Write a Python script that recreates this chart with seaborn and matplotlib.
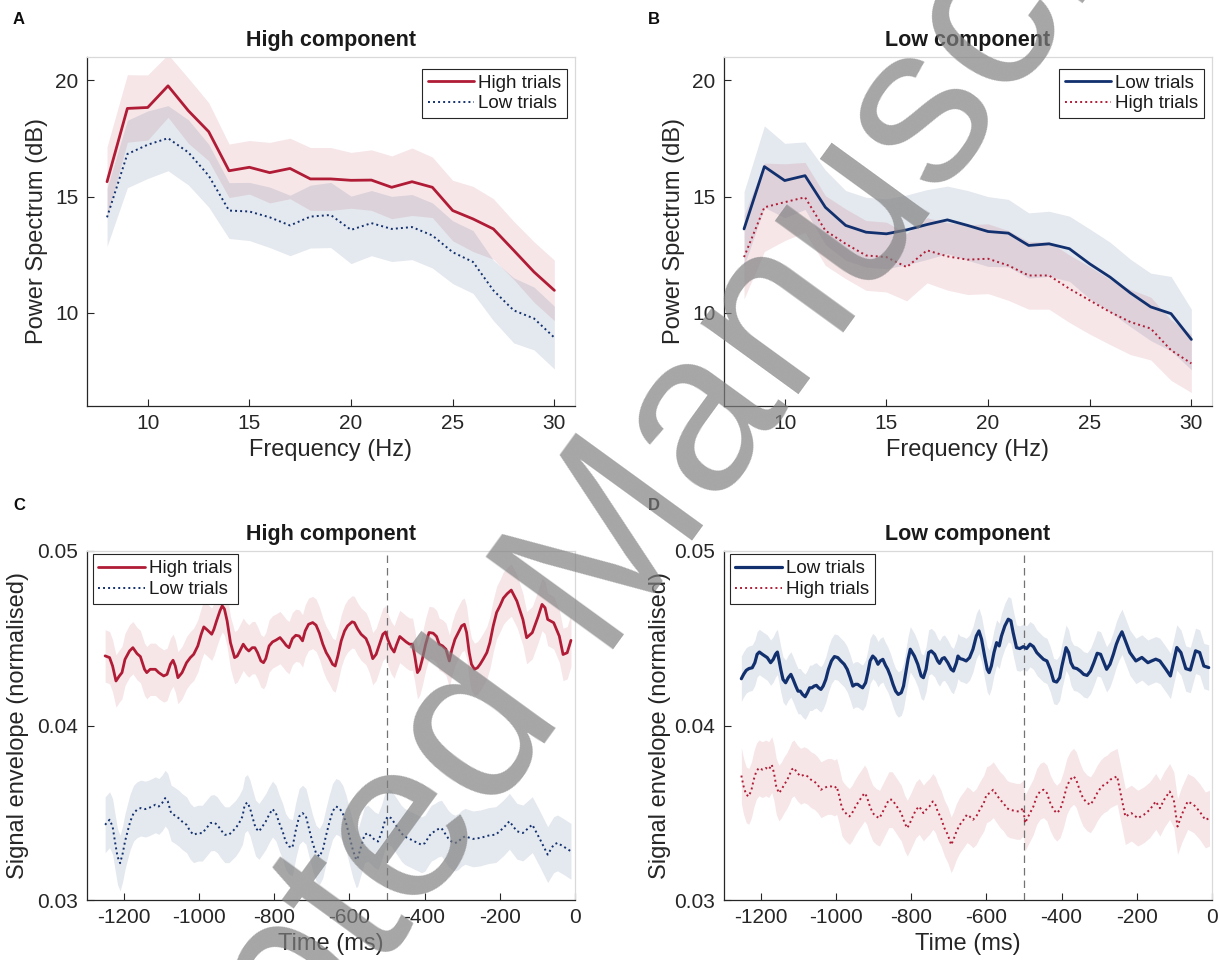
import numpy as np
import matplotlib
matplotlib.use("Agg")
import matplotlib.pyplot as plt
import seaborn as sns

# ---------------- data ----------------
freq_hz = [8, 9, 10, 11, 12, 13, 14, 15, 16, 17, 18, 19, 20, 21, 22, 23, 24, 25, 26, 27, 28, 29, 30]

A_high_mean = [15.64, 18.79, 18.83, 19.76, 18.69, 17.79, 16.11, 16.26, 16.03, 16.21, 15.76, 15.76,
               15.70, 15.71, 15.40, 15.64, 15.40, 14.40, 14.04, 13.61, 12.69, 11.76, 10.97]
A_high_sem = [1.5, 1.45, 1.4, 1.35, 1.4, 1.25, 1.15, 1.15, 1.3, 1.3, 1.35, 1.35,
              1.2, 1.3, 1.35, 1.45, 1.3, 1.3, 1.4, 1.3, 1.25, 1.3, 1.3]
A_low_mean = [14.11, 16.83, 17.23, 17.51, 16.90, 15.90, 14.40, 14.36, 14.11, 13.76, 14.14, 14.21,
              13.57, 13.86, 13.61, 13.69, 13.33, 12.61, 12.19, 10.97, 10.11, 9.76, 8.94]
A_low_sem = [1.25, 1.45, 1.45, 1.4, 1.4, 1.35, 1.2, 1.25, 1.3, 1.3, 1.35, 1.4,
             1.45, 1.4, 1.4, 1.4, 1.4, 1.35, 1.35, 1.3, 1.4, 1.35, 1.35]

B_low_mean = [13.61, 16.29, 15.69, 15.90, 14.54, 13.76, 13.47, 13.40, 13.57, 13.80, 14.00, 13.76,
              13.50, 13.43, 12.90, 12.97, 12.76, 12.11, 11.54, 10.86, 10.26, 9.97, 8.86]
B_low_sem = [1.6, 1.75, 1.6, 1.45, 1.6, 1.5, 1.5, 1.5, 1.5, 1.5, 1.45, 1.5,
             1.5, 1.45, 1.4, 1.4, 1.4, 1.5, 1.5, 1.45, 1.45, 1.6, 1.3]
B_high_mean = [12.40, 14.54, 14.76, 14.97, 13.54, 12.97, 12.47, 12.40, 11.97, 12.69, 12.43, 12.29,
               12.33, 12.04, 11.61, 11.61, 11.04, 10.54, 10.04, 9.61, 9.33, 8.40, 7.83]
B_high_sem = [1.8, 1.9, 1.65, 1.5, 1.5, 1.5, 1.5, 1.5, 1.45, 1.4, 1.45, 1.5,
              1.5, 1.5, 1.45, 1.45, 1.45, 1.45, 1.4, 1.4, 1.35, 1.3, 1.25]

C_high_t = [-1251, -1239, -1231, -1222, -1213, -1206, -1198, -1186, -1177, -1166, -1157, -1146,
            -1140, -1131, -1117, -1108, -1095, -1086, -1077, -1070, -1064, -1057, -1046, -1034,
            -1024, -1015, -1004, -995, -988, -979, -967, -961, -954, -945, -939, -933, -926,
            -917, -906, -899, -892, -883, -875, -868, -859, -852, -845, -836, -829, -823, -814,
            -805, -796, -785, -774, -769, -761, -752, -743, -734, -725, -718, -709, -698, -689,
            -680, -671, -662, -654, -645, -638, -631, -622, -613, -605, -593, -587, -578, -569,
            -556, -547, -538, -529, -520, -511, -504, -498, -489, -481, -475, -466, -457, -449,
            -440, -432, -426, -419, -413, -406, -397, -388, -377, -368, -361, -352, -343, -334,
            -327, -319, -310, -301, -294, -288, -281, -275, -267, -259, -252, -243, -234, -226,
            -217, -208, -199, -190, -180, -169, -154, -138, -128, -113, -97, -87, -79, -72, -56,
            -41, -31, -20, -10]
C_high_v = [0.04399, 0.04389, 0.04341, 0.04255, 0.04284, 0.04303, 0.04379, 0.04427, 0.04446,
            0.04412, 0.04395, 0.04322, 0.04303, 0.04322, 0.04322, 0.04303, 0.04284, 0.04293,
            0.04351, 0.04374, 0.04341, 0.04274, 0.04303, 0.04360, 0.04389, 0.04408, 0.04456,
            0.04523, 0.04565, 0.04548, 0.04523, 0.04552, 0.04600, 0.04657, 0.04686, 0.04667,
            0.04600, 0.04475, 0.04389, 0.04398, 0.04427, 0.04466, 0.04441, 0.04427, 0.04446,
            0.04446, 0.04418, 0.04370, 0.04360, 0.04383, 0.04456, 0.04479, 0.04489, 0.04504,
            0.04475, 0.04460, 0.04446, 0.04498, 0.04517, 0.04513, 0.04485, 0.04542, 0.04580,
            0.04590, 0.04575, 0.04529, 0.04466, 0.04418, 0.04389, 0.04351, 0.04341, 0.04398,
            0.04485, 0.04542, 0.04571, 0.04594, 0.04590, 0.04552, 0.04523, 0.04498, 0.04452,
            0.04383, 0.04408, 0.04466, 0.04523, 0.04536, 0.04494, 0.04446, 0.04421, 0.04460,
            0.04510, 0.04494, 0.04479, 0.04466, 0.04466, 0.04398, 0.04303, 0.04322, 0.04379,
            0.04466, 0.04533, 0.04529, 0.04510, 0.04466, 0.04456, 0.04437, 0.04370, 0.04437,
            0.04494, 0.04533, 0.04571, 0.04580, 0.04533, 0.04418, 0.04351, 0.04322, 0.04331,
            0.04351, 0.04383, 0.04418, 0.04475, 0.04571, 0.04648, 0.04686, 0.04730, 0.04755,
            0.04776, 0.04713, 0.04608, 0.04503, 0.04532, 0.04627, 0.04694, 0.04675, 0.04608,
            0.04589, 0.04512, 0.04407, 0.04417, 0.04488]
C_high_sem = 0.0015

C_low_t = [-1251, -1239, -1231, -1224, -1218, -1211, -1204, -1198, -1190, -1184, -1175, -1166,
           -1156, -1144, -1135, -1126, -1117, -1108, -1099, -1091, -1084, -1075, -1064, -1055,
           -1046, -1034, -1024, -1015, -1004, -992, -981, -970, -961, -952, -943, -932, -921,
           -912, -903, -894, -885, -879, -872, -865, -859, -850, -841, -832, -823, -814, -805,
           -796, -787, -778, -770, -761, -752, -743, -734, -725, -716, -707, -698, -689, -680,
           -671, -663, -654, -645, -636, -627, -618, -609, -600, -591, -582, -578, -569, -560,
           -551, -542, -533, -524, -515, -506, -498, -489, -480, -471, -462, -453, -444, -435,
           -426, -417, -408, -399, -391, -382, -373, -364, -355, -346, -337, -328, -319, -310,
           -301, -292, -271, -251, -230, -210, -190, -174, -154, -138, -113, -92, -72, -56, -46,
           -31, -10]
C_low_v = [0.03431, 0.03460, 0.03421, 0.03326, 0.03249, 0.03211, 0.03268, 0.03335, 0.03402,
           0.03450, 0.03498, 0.03517, 0.03527, 0.03521, 0.03527, 0.03536, 0.03546, 0.03536,
           0.03556, 0.03584, 0.03565, 0.03498, 0.03483, 0.03469, 0.03450, 0.03431, 0.03393,
           0.03374, 0.03383, 0.03383, 0.03412, 0.03441, 0.03444, 0.03431, 0.03402, 0.03374,
           0.03374, 0.03393, 0.03412, 0.03441, 0.03479, 0.03546, 0.03559, 0.03527, 0.03479,
           0.03412, 0.03393, 0.03421, 0.03450, 0.03489, 0.03521, 0.03498, 0.03441, 0.03393,
           0.03335, 0.03307, 0.03300, 0.03400, 0.03479, 0.03498, 0.03479, 0.03402, 0.03326,
           0.03268, 0.03249, 0.03287, 0.03364, 0.03441, 0.03508, 0.03536, 0.03527, 0.03498,
           0.03441, 0.03364, 0.03287, 0.03230, 0.03239, 0.03307, 0.03374, 0.03383, 0.03364,
           0.03345, 0.03335, 0.03383, 0.03450, 0.03479, 0.03469, 0.03441, 0.03412, 0.03383,
           0.03364, 0.03354, 0.03345, 0.03335, 0.03326, 0.03316, 0.03326, 0.03354, 0.03383,
           0.03393, 0.03406, 0.03412, 0.03383, 0.03354, 0.03335, 0.03326, 0.03335, 0.03354,
           0.03365, 0.03350, 0.03356, 0.03369, 0.03375, 0.03413, 0.03451, 0.03394, 0.03384,
           0.03432, 0.03346, 0.03260, 0.03317, 0.03327, 0.03308, 0.03279]
C_low_sem = 0.0016

D_low_t = [-1253, -1247, -1240, -1233, -1224, -1217, -1211, -1205, -1197, -1190, -1184, -1175,
           -1168, -1162, -1157, -1153, -1148, -1142, -1135, -1128, -1121, -1115, -1108, -1102,
           -1096, -1090, -1083, -1077, -1071, -1065, -1059, -1053, -1047, -1041, -1035, -1028,
           -1021, -1013, -1005, -996, -988, -979, -971, -963, -956, -949, -943, -937, -930,
           -922, -916, -910, -903, -896, -889, -883, -876, -869, -863, -856, -849, -842, -835,
           -827, -821, -815, -809, -803, -792, -783, -774, -768, -761, -754, -747, -738, -730,
           -725, -718, -712, -703, -694, -688, -680, -676, -670, -663, -654, -645, -636, -627,
           -620, -613, -605, -598, -593, -587, -580, -573, -566, -560, -551, -542, -535, -529,
           -520, -511, -502, -493, -484, -475, -466, -457, -448, -439, -430, -421, -413, -405,
           -399, -393, -388, -381, -375, -368, -359, -350, -341, -332, -323, -314, -305, -296,
           -287, -280, -271, -262, -254, -247, -239, -218, -202, -186, -170, -160, -149, -138,
           -122, -110, -101, -93, -82, -69, -57, -43, -32, -21, -8]
D_low_v = [0.04268, 0.04293, 0.04316, 0.04326, 0.04331, 0.04360, 0.04408, 0.04421, 0.04408,
           0.04398, 0.04389, 0.04360, 0.04379, 0.04408, 0.04421, 0.04379, 0.04322, 0.04264,
           0.04245, 0.04274, 0.04293, 0.04264, 0.04226, 0.04197, 0.04197, 0.04178, 0.04165,
           0.04188, 0.04216, 0.04216, 0.04226, 0.04230, 0.04216, 0.04207, 0.04226, 0.04264,
           0.04322, 0.04370, 0.04395, 0.04389, 0.04370, 0.04351, 0.04322, 0.04274, 0.04226,
           0.04236, 0.04236, 0.04226, 0.04216, 0.04245, 0.04303, 0.04370, 0.04398, 0.04383,
           0.04351, 0.04370, 0.04379, 0.04345, 0.04322, 0.04284, 0.04236, 0.04197, 0.04178,
           0.04188, 0.04226, 0.04303, 0.04379, 0.04437, 0.04398, 0.04351, 0.04284, 0.04274,
           0.04322, 0.04418, 0.04427, 0.04408, 0.04370, 0.04356, 0.04383, 0.04389, 0.04360,
           0.04322, 0.04312, 0.04360, 0.04398, 0.04383, 0.04379, 0.04370, 0.04389, 0.04437,
           0.04513, 0.04542, 0.04494, 0.04398, 0.04322, 0.04303, 0.04341, 0.04418, 0.04475,
           0.04456, 0.04513, 0.04571, 0.04609, 0.04600, 0.04533, 0.04446, 0.04441, 0.04452,
           0.04441, 0.04466, 0.04452, 0.04418, 0.04398, 0.04379, 0.04370, 0.04322, 0.04255,
           0.04249, 0.04274, 0.04341, 0.04398, 0.04446, 0.04418, 0.04360, 0.04331, 0.04326,
           0.04312, 0.04293, 0.04287, 0.04312, 0.04360, 0.04414, 0.04408, 0.04360, 0.04322,
           0.04351, 0.04408, 0.04466, 0.04504, 0.04537, 0.04418, 0.04370, 0.04390, 0.04360,
           0.04370, 0.04380, 0.04370, 0.04322, 0.04284, 0.04370, 0.04447, 0.04418, 0.04326,
           0.04318, 0.04428, 0.04418, 0.04341, 0.04332]
D_low_sem = 0.0013

D_high_t = [-1253, -1247, -1240, -1233, -1226, -1220, -1213, -1206, -1197, -1188, -1180, -1172,
            -1166, -1160, -1153, -1146, -1139, -1133, -1126, -1119, -1113, -1104, -1095, -1086,
            -1077, -1068, -1059, -1050, -1041, -1032, -1023, -1014, -1005, -999, -992, -985,
            -979, -971, -965, -958, -951, -943, -934, -925, -919, -912, -903, -894, -885, -878,
            -869, -860, -851, -845, -836, -827, -818, -811, -804, -796, -788, -779, -768, -761,
            -752, -743, -736, -730, -721, -712, -703, -694, -688, -680, -671, -661, -652, -645,
            -636, -627, -618, -607, -600, -591, -582, -573, -564, -555, -546, -538, -529, -520,
            -511, -502, -497, -491, -484, -475, -466, -457, -448, -439, -430, -421, -413, -404,
            -395, -386, -377, -368, -361, -352, -343, -332, -323, -314, -305, -296, -287, -279,
            -270, -261, -252, -239, -230, -214, -197, -181, -165, -149, -138, -127, -112, -101,
            -91, -80, -64, -48, -32, -17, -6]
D_high_v = [0.03713, 0.03651, 0.03603, 0.03594, 0.03632, 0.03690, 0.03738, 0.03757, 0.03747,
            0.03757, 0.03747, 0.03776, 0.03728, 0.03651, 0.03613, 0.03632, 0.03661, 0.03680,
            0.03709, 0.03747, 0.03757, 0.03728, 0.03709, 0.03718, 0.03709, 0.03690, 0.03680,
            0.03661, 0.03632, 0.03642, 0.03651, 0.03651, 0.03642, 0.03651, 0.03594, 0.03527,
            0.03508, 0.03489, 0.03479, 0.03498, 0.03527, 0.03556, 0.03584, 0.03613, 0.03594,
            0.03546, 0.03498, 0.03479, 0.03469, 0.03498, 0.03536, 0.03575, 0.03575, 0.03556,
            0.03527, 0.03498, 0.03441, 0.03412, 0.03441, 0.03479, 0.03517, 0.03536, 0.03498,
            0.03517, 0.03536, 0.03565, 0.03546, 0.03508, 0.03469, 0.03412, 0.03374, 0.03316,
            0.03345, 0.03393, 0.03431, 0.03460, 0.03489, 0.03479, 0.03460, 0.03479, 0.03517,
            0.03556, 0.03603, 0.03613, 0.03632, 0.03603, 0.03575, 0.03556, 0.03527, 0.03517,
            0.03513, 0.03508, 0.03508, 0.03527, 0.03441, 0.03469, 0.03498, 0.03536, 0.03594,
            0.03623, 0.03632, 0.03613, 0.03556, 0.03517, 0.03498, 0.03517, 0.03575, 0.03651,
            0.03690, 0.03709, 0.03690, 0.03632, 0.03584, 0.03556, 0.03546, 0.03575, 0.03613,
            0.03642, 0.03661, 0.03670, 0.03690, 0.03699, 0.03709, 0.03574, 0.03478, 0.03498,
            0.03469, 0.03488, 0.03517, 0.03565, 0.03526, 0.03574, 0.03622, 0.03574, 0.03421,
            0.03488, 0.03565, 0.03546, 0.03507, 0.03459, 0.03469]
D_high_sem = 0.0016

freq_ticks = [10, 15, 20, 25, 30]
power_ticks = [10, 15, 20]
time_ticks = [-1200, -1000, -800, -600, -400, -200, 0]
env_ticks = [0.03, 0.04, 0.05]
env_ticklabels = ["0.03", "0.04", "0.05"]

# ---------------- style ----------------
sns.set_theme(style="white")
plt.rcParams["font.family"] = ["Liberation Sans", "DejaVu Sans"]
plt.rcParams["axes.unicode_minus"] = False

RED = "#B01C36"
BLUE = "#12306E"
BAND_A = 0.11
SOLID_LW = 2.0
DOT_LW = 1.4
DOT = (0, (1, 1.6))

W, H = 1220, 960
fig = plt.figure(figsize=(W / 100, H / 100), dpi=100)


def px_axes(left, top, right, bottom):
    return fig.add_axes([left / W, 1 - bottom / H, (right - left) / W, (bottom - top) / H])


axA = px_axes(86.7, 57, 574.7, 406)
axB = px_axes(723.7, 57, 1211.7, 406)
axC = px_axes(86.7, 551, 574.7, 900)
axD = px_axes(723.7, 551, 1211.7, 900)


def style_axes(ax):
    for s in ["left", "bottom"]:
        ax.spines[s].set_color("0.15")
        ax.spines[s].set_linewidth(0.9)
    for s in ["top", "right"]:
        ax.spines[s].set_color("0.85")
        ax.spines[s].set_linewidth(0.9)
    ax.tick_params(direction="in", length=5, width=0.8, colors="0.15",
                   labelsize=15, labelcolor="0.15", top=False, right=False,
                   bottom=True, left=True, pad=6)
    ax.grid(False)


def band(ax, x, m, s, color):
    m = np.asarray(m, float)
    s = np.asarray(s, float) * np.ones_like(m)
    ax.fill_between(x, m - s, m + s, color=color, alpha=BAND_A, lw=0)


def legend(ax, loc, anchor):
    leg = ax.legend(loc=loc, bbox_to_anchor=anchor, frameon=True, fancybox=False,
                    edgecolor="0.15", framealpha=1, fontsize=13.5, handlelength=2.5,
                    handletextpad=0.2, borderpad=0.3, labelspacing=0.2,
                    borderaxespad=0.0)
    leg.get_frame().set_linewidth(0.8)
    for t in leg.get_texts():
        t.set_color("0.1")


# ---- A ----
band(axA, freq_hz, A_high_mean, A_high_sem, RED)
band(axA, freq_hz, A_low_mean, A_low_sem, BLUE)
sns.lineplot(x=freq_hz, y=A_high_mean, ax=axA, color=RED, lw=SOLID_LW, label="High trials")
sns.lineplot(x=freq_hz, y=A_low_mean, ax=axA, color=BLUE, lw=DOT_LW, linestyle=DOT, label="Low trials")
axA.set_title("High component", fontsize=15.5, fontweight="bold", pad=8, color="0.1")
legend(axA, "upper right", (0.984, 0.966))

# ---- B ----
band(axB, freq_hz, B_low_mean, B_low_sem, BLUE)
band(axB, freq_hz, B_high_mean, B_high_sem, RED)
sns.lineplot(x=freq_hz, y=B_low_mean, ax=axB, color=BLUE, lw=SOLID_LW, label="Low trials")
sns.lineplot(x=freq_hz, y=B_high_mean, ax=axB, color=RED, lw=DOT_LW, linestyle=DOT, label="High trials")
axB.set_title("Low component", fontsize=15.5, fontweight="bold", pad=8, color="0.1")
legend(axB, "upper right", (0.984, 0.966))

for ax in (axA, axB):
    style_axes(ax)
    ax.set_xlim(7, 31)
    ax.set_ylim(6, 21)
    ax.set_xticks(freq_ticks)
    ax.set_yticks(power_ticks)
    ax.set_xlabel("Frequency (Hz)", fontsize=17, color="0.15")
    ax.set_ylabel("Power Spectrum (dB)", fontsize=17, color="0.15")
    ax.xaxis.set_label_coords(0.5, -0.095)
axA.yaxis.set_label_coords(-0.08, 0.5)
axB.yaxis.set_label_coords(-0.08, 0.5)

# ---- C ----
band(axC, C_high_t, C_high_v, C_high_sem, RED)
band(axC, C_low_t, C_low_v, C_low_sem, BLUE)
sns.lineplot(x=C_high_t, y=C_high_v, ax=axC, color=RED, lw=SOLID_LW, label="High trials")
sns.lineplot(x=C_low_t, y=C_low_v, ax=axC, color=BLUE, lw=DOT_LW, linestyle=DOT, label="Low trials")
axC.set_title("High component", fontsize=15.5, fontweight="bold", pad=8, color="0.1")
legend(axC, "upper left", (0.012, 0.99))

# ---- D ----
band(axD, D_low_t, D_low_v, D_low_sem, BLUE)
band(axD, D_high_t, D_high_v, D_high_sem, RED)
sns.lineplot(x=D_low_t, y=D_low_v, ax=axD, color=BLUE, lw=SOLID_LW + 0.3, label="Low trials")
sns.lineplot(x=D_high_t, y=D_high_v, ax=axD, color=RED, lw=DOT_LW, linestyle=DOT, label="High trials")
axD.set_title("Low component", fontsize=15.5, fontweight="bold", pad=8, color="0.1")
legend(axD, "upper left", (0.012, 0.99))

for ax in (axC, axD):
    style_axes(ax)
    ax.axvline(-500, color="0.45", lw=0.9, ls=(0, (6, 4)), zorder=1)
    ax.set_xlim(-1300, 0)
    ax.set_ylim(0.03, 0.05)
    ax.set_xticks(time_ticks)
    ax.set_yticks(env_ticks)
    ax.set_yticklabels(env_ticklabels)
    ax.set_xlabel("Time (ms)", fontsize=17, color="0.15")
    ax.set_ylabel("Signal envelope (normalised)", fontsize=17, color="0.15")
    ax.xaxis.set_label_coords(0.5, -0.095)
axC.yaxis.set_label_coords(-0.118, 0.5)
axD.yaxis.set_label_coords(-0.108, 0.5)

# panel letters
for lab, x, y in [("A", 19, 20), ("B", 654, 20), ("C", 19, 506), ("D", 654, 506)]:
    fig.text(x / W, 1 - y / H, lab, fontsize=12, fontweight="bold", ha="center", va="center",
             color="0.05")

# watermark
fig.text(0.479, 0.387, "Accepted Manuscript", rotation=54, rotation_mode="anchor",
         fontsize=165, color="0.5", alpha=0.7, ha="center", va="center", zorder=10)

fig.savefig("out.png", dpi=100)
